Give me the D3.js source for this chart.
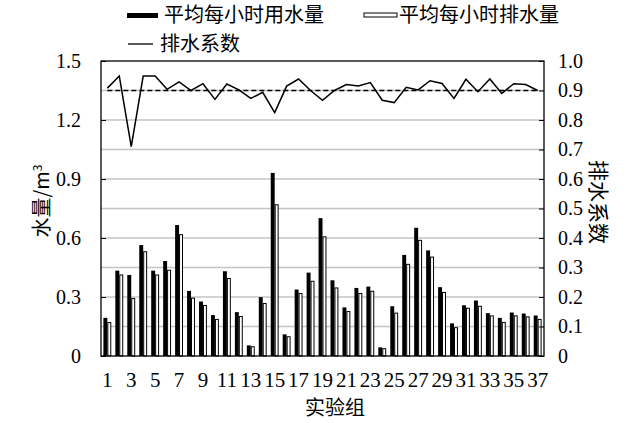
<!DOCTYPE html>
<html>
<head>
<meta charset="utf-8">
<script src="https://d3js.org/d3.v7.min.js"></script>
<style>
body {
	margin: 0;
	background-color: white;
}
svg text {
	font-family: "Liberation Serif", "Noto Sans CJK SC", serif;
	fill: black;
}
.cjk {
	font-family: "Noto Sans CJK SC", sans-serif;
}
.grid line {
	stroke: #c4c4c4;
	stroke-width: 1.3;
}
.axis path {
	display: none;
}
.axis line {
	stroke: black;
}
</style>
</head>
<body>
<svg id="chart" width="637" height="423"></svg>
<script>
/* globals d3 */
"use strict";

const groups = d3.range(1, 38);
const useWater = [
	0.194, 0.434, 0.412, 0.564, 0.434, 0.483, 0.666, 0.331, 0.277, 0.208,
	0.431, 0.223, 0.054, 0.299, 0.931, 0.110, 0.338, 0.424, 0.701, 0.385,
	0.247, 0.346, 0.353, 0.044, 0.253, 0.514, 0.652, 0.537, 0.350, 0.166,
	0.258, 0.282, 0.218, 0.194, 0.221, 0.216, 0.206
];
const drainWater = [
	0.170, 0.412, 0.292, 0.530, 0.412, 0.436, 0.617, 0.294, 0.257, 0.186,
	0.394, 0.201, 0.047, 0.267, 0.769, 0.098, 0.318, 0.380, 0.606, 0.346,
	0.226, 0.318, 0.329, 0.037, 0.218, 0.466, 0.588, 0.503, 0.323, 0.144,
	0.243, 0.253, 0.204, 0.171, 0.204, 0.199, 0.186
];
const drainCoef = [
	0.908, 0.949, 0.710, 0.949, 0.949, 0.904, 0.929, 0.900, 0.923, 0.870,
	0.922, 0.902, 0.873, 0.894, 0.825, 0.915, 0.939, 0.900, 0.867, 0.900,
	0.920, 0.915, 0.927, 0.867, 0.859, 0.911, 0.902, 0.933, 0.924, 0.873,
	0.938, 0.896, 0.939, 0.890, 0.923, 0.920, 0.900
];
const refCoef = 0.9;
const leftTicks = [0, 0.3, 0.6, 0.9, 1.2, 1.5];
const rightTicks = [0, 0.1, 0.2, 0.3, 0.4, 0.5, 0.6, 0.7, 0.8, 0.9, 1.0];
const xTickGroups = groups.filter(g => g % 2 === 1);

function main()
{
	const margin = {top: 61, left: 101, right: 93, bottom: 67};
	const width = 637 - margin.left - margin.right;
	const height = 423 - margin.top - margin.bottom;

	const svg = d3.select("#chart");
	const g = svg.append("g")
		.attr("transform", "translate(" + margin.left + "," + margin.top + ")");

	const x = d3.scaleBand(groups, [0, width]).paddingInner(0.34).paddingOuter(0.2);
	const yL = d3.scaleLinear([0, 1.5], [height, 0]);
	const yR = d3.scaleLinear([0, 1], [height, 0]);
	const half = x.bandwidth() / 2;

	// grid lines every 0.1 of the right axis
	g.append("g")
		.attr("class", "grid")
		.selectAll("line")
		.data(rightTicks.slice(1, -1))
		.join("line")
			.attr("x1", 0)
			.attr("x2", width)
			.attr("y1", d => yR(d))
			.attr("y2", d => yR(d));

	// bars
	g.append("g").selectAll("rect")
		.data(groups)
		.join("rect")
			.attr("x", d => x(d))
			.attr("y", (d, i) => yL(useWater[i]))
			.attr("width", half)
			.attr("height", (d, i) => height - yL(useWater[i]))
			.attr("fill", "black");
	g.append("g").selectAll("rect")
		.data(groups)
		.join("rect")
			.attr("x", d => x(d) + half + 0.5)
			.attr("y", (d, i) => yL(drainWater[i]))
			.attr("width", half - 1)
			.attr("height", (d, i) => height - yL(drainWater[i]))
			.attr("fill", "white")
			.attr("stroke", "black")
			.attr("stroke-width", 1);

	// reference line and coefficient line
	g.append("line")
		.attr("x1", x(1) + half)
		.attr("x2", x(37) + half)
		.attr("y1", yR(refCoef))
		.attr("y2", yR(refCoef))
		.attr("stroke", "black")
		.attr("stroke-width", 1.3)
		.attr("stroke-dasharray", "5,3");
	const line = d3.line()
		.x(d => x(d) + half)
		.y((d, i) => yR(drainCoef[i]));
	g.append("path")
		.attr("d", line(groups))
		.attr("fill", "none")
		.attr("stroke", "black")
		.attr("stroke-width", 1.5);

	// frame
	g.append("rect")
		.attr("width", width)
		.attr("height", height)
		.attr("fill", "none")
		.attr("stroke", "black")
		.attr("stroke-width", 1.3);

	// axes
	const fmt = d => d === 0 ? "0" : d.toFixed(1);
	g.append("g")
		.attr("class", "axis")
		.style("font-size", "20px")
		.call(d3.axisLeft(yL).tickValues(leftTicks)
			.tickSizeInner(-5).tickSizeOuter(0).tickPadding(20)
			.tickFormat(fmt));
	g.append("g")
		.attr("class", "axis")
		.attr("transform", "translate(" + width + ",0)")
		.style("font-size", "20px")
		.call(d3.axisRight(yR).tickValues(rightTicks)
			.tickSizeInner(-5).tickSizeOuter(0).tickPadding(14)
			.tickFormat(fmt));
	g.append("g")
		.attr("class", "axis")
		.attr("transform", "translate(0," + height + ")")
		.style("font-size", "21px")
		.call(d3.axisBottom(x).tickValues(xTickGroups)
			.tickSize(0).tickPadding(16));
	svg.selectAll(".axis text").attr("font-family", null);

	// axis titles
	svg.append("text")
		.attr("class", "cjk")
		.attr("transform", "translate(49,201) rotate(-90)")
		.attr("text-anchor", "middle")
		.style("font-size", "20px")
		.text("水量/m")
		.append("tspan")
			.attr("dy", "-0.6em")
			.style("font-size", "12px")
			.text("3");
	svg.append("text")
		.attr("class", "cjk")
		.attr("transform", "translate(591,202) rotate(90)")
		.attr("text-anchor", "middle")
		.style("font-size", "21px")
		.text("排水系数");
	svg.append("text")
		.attr("class", "cjk")
		.attr("x", 335)
		.attr("y", 415)
		.attr("text-anchor", "middle")
		.style("font-size", "20px")
		.text("实验组");

	// legend
	const legend = svg.append("g").attr("class", "cjk").style("font-size", "20px");
	legend.append("rect")
		.attr("x", 127).attr("y", 13).attr("width", 31).attr("height", 5)
		.attr("fill", "black");
	legend.append("text")
		.attr("x", 164).attr("y", 22)
		.text("平均每小时用水量");
	legend.append("rect")
		.attr("x", 364).attr("y", 13).attr("width", 33).attr("height", 4)
		.attr("fill", "white").attr("stroke", "black");
	legend.append("text")
		.attr("x", 399).attr("y", 22)
		.text("平均每小时排水量");
	legend.append("line")
		.attr("x1", 128).attr("x2", 153).attr("y1", 44).attr("y2", 44)
		.attr("stroke", "black").attr("stroke-width", 1.3);
	legend.append("text")
		.attr("x", 160).attr("y", 51)
		.text("排水系数");
}
main();
</script>
</body>
</html>
